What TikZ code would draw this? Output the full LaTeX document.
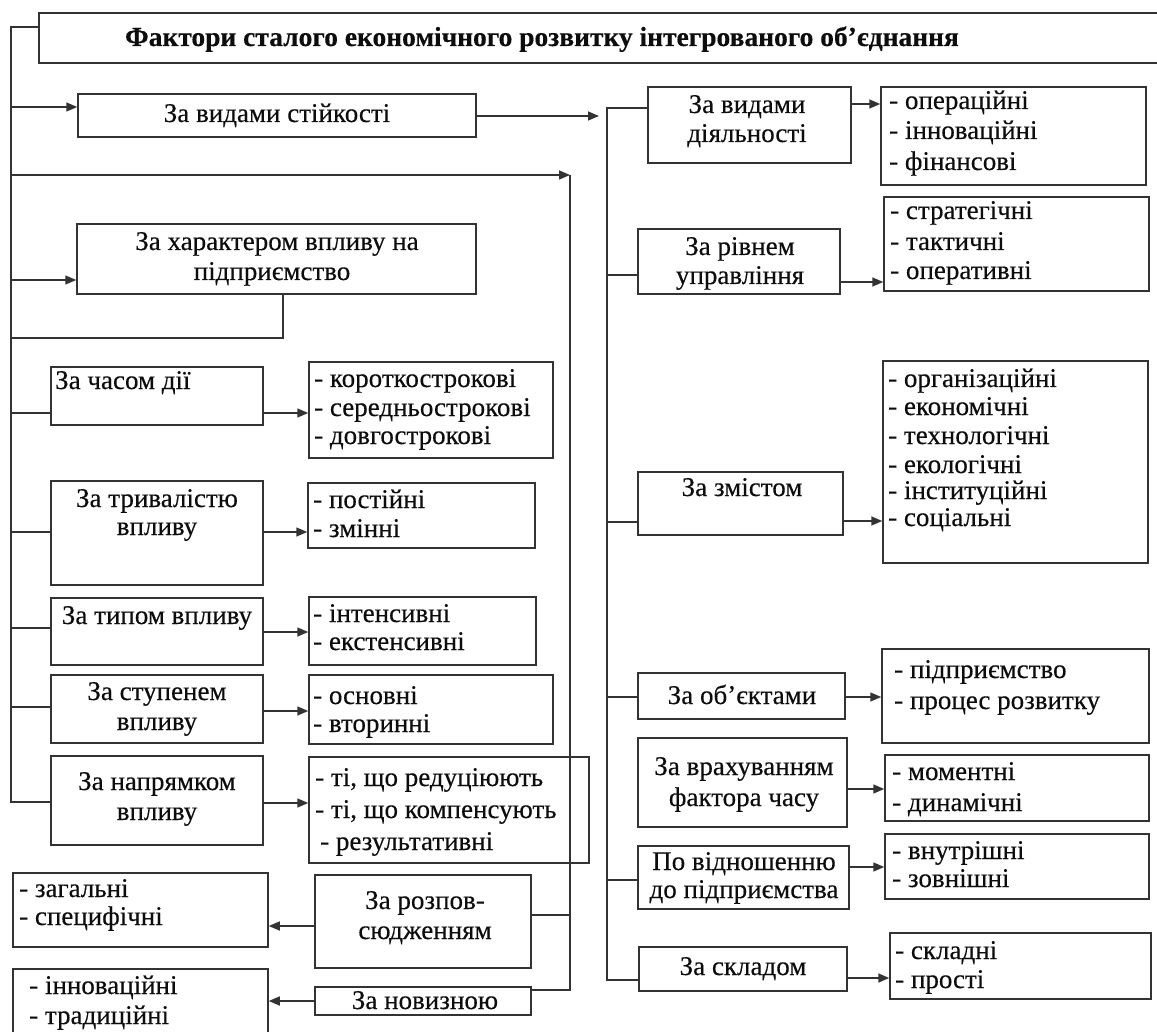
\documentclass[tikz,border=0pt]{standalone}
\usepackage{fontspec}
\setmainfont{Liberation Serif}[FakeBold=0.35]
\usetikzlibrary{arrows.meta}
\definecolor{lncol}{gray}{0.2}
\definecolor{txcol}{gray}{0.05}
\newcommand\bx[5]{\node[box, minimum width={#4-#2}, minimum height={#5-#3}] (#1) at ({(#2+#4)/2},{(#3+#5)/2}) {};}
\begin{document}
\begin{tikzpicture}[x=1pt,y=-1pt,
  box/.style={draw=lncol, line width=1.5pt, fill=white, inner sep=0pt, rectangle},
  tx/.style={inner sep=0pt, font=\fontsize{27}{31}\selectfont, text=txcol, text height=18pt, text depth=4pt},
  tl/.style={tx, anchor=west},
  wire/.style={draw=lncol, line width=1.5pt},
  arr/.style={wire, -{Triangle[length=11pt,width=9pt]}}]
\useasboundingbox[fill=white] (0,0) rectangle (1157,1032);

% ---------- boxes ----------
\bx{title}{39}{13}{1170}{63}
\bx{v1}{78}{94}{476}{137}
\bx{vh}{77}{224}{476}{294}
\bx{chas}{51}{367}{263}{425}
\bx{tryv}{51}{481}{263}{585}
\bx{typ}{51}{598}{263}{665}
\bx{stup}{51}{675}{263}{743}
\bx{napr}{51}{756}{263}{845}
\bx{lchas}{309}{362}{553}{458}
\bx{ltryv}{308}{483}{535}{548}
\bx{ltyp}{309}{597}{536}{665}
\bx{lstup}{309}{675}{553}{744}
\bx{lnapr}{309}{757}{589}{863}
\bx{lrozp}{13}{873}{268}{947}
\bx{rozp}{315}{875}{531}{968}
\bx{lnov}{13}{969}{268}{1045}
\bx{nov}{315}{987}{531}{1015}
\bx{diyal}{648}{87}{851}{163}
\bx{ldiyal}{881}{87}{1146}{185}
\bx{riv}{638}{229}{840}{294}
\bx{lriv}{884}{197}{1149}{291}
\bx{zmist}{638}{472}{843}{535}
\bx{lzmist}{883}{361}{1148}{563}
\bx{obj}{638}{673}{845}{719}
\bx{lobj}{882}{649}{1149}{743}
\bx{vrah}{638}{738}{847}{827}
\bx{lvrah}{885}{755}{1149}{821}
\bx{vidn}{638}{846}{849}{909}
\bx{lvidn}{885}{834}{1149}{899}
\bx{sklad}{639}{947}{847}{991}
\bx{lsklad}{890}{933}{1151}{999}

% ---------- texts ----------
\node[tx, font=\fontsize{27.5}{31}\selectfont\bfseries] (title-t) at (542,39) {Фактори сталого економічного розвитку інтегрованого об’єднання};
\node[tx] (v1-t) at (277,115) {За видами стійкості};
\node[tx] (vh-t1) at (277,243) {За характером впливу на};
\node[tx] (vh-t2) at (272,273) {підприємство};
\node[tl] (chas-t) at (55,382) {За часом дії};
\node[tx] (tryv-t1) at (157,500) {За тривалістю};
\node[tx] (tryv-t2) at (157,528) {впливу};
\node[tx] (typ-t) at (157,617) {За типом впливу};
\node[tx] (stup-t1) at (157,693) {За ступенем};
\node[tx] (stup-t2) at (157,723) {впливу};
\node[tx] (napr-t1) at (157,783) {За напрямком};
\node[tx] (napr-t2) at (157,813) {впливу};
\node[tl] (lchas-t1) at (314,380) {- короткострокові};
\node[tl] (lchas-t2) at (314,409) {- середньострокові};
\node[tl] (lchas-t3) at (314,437) {- довгострокові};
\node[tl] (ltryv-t1) at (313,501) {- постійні};
\node[tl] (ltryv-t2) at (313,530) {- змінні};
\node[tl] (ltyp-t1) at (313,615) {- інтенсивні};
\node[tl] (ltyp-t2) at (313,643) {- екстенсивні};
\node[tl] (lstup-t1) at (313,697) {- основні};
\node[tl] (lstup-t2) at (313,725) {- вторинні};
\node[tl] (lnapr-t1) at (315,779) {- ті, що редуціюють};
\node[tl] (lnapr-t2) at (315,811) {- ті, що компенсують};
\node[tl] (lnapr-t3) at (320,843) {- результативні};
\node[tl] (lrozp-t1) at (19,890) {- загальні};
\node[tl] (lrozp-t2) at (19,918) {- специфічні};
\node[tx] (rozp-t1) at (425,902) {За розпов-};
\node[tx] (rozp-t2) at (425,932) {сюдженням};
\node[tl] (lnov-t1) at (29,987) {- інноваційні};
\node[tl] (lnov-t2) at (29,1017) {- традиційні};
\node[tx] (nov-t) at (425,1002) {За новизною};
\node[tx] (diyal-t1) at (747,106) {За видами};
\node[tx] (diyal-t2) at (747,135) {діяльності};
\node[tl] (ldiyal-t1) at (889,102) {- операційні};
\node[tl] (ldiyal-t2) at (889,132) {- інноваційні};
\node[tl] (ldiyal-t3) at (889,163) {- фінансові};
\node[tx] (riv-t1) at (740,248) {За рівнем};
\node[tx] (riv-t2) at (740,277) {управління};
\node[tl] (lriv-t1) at (890,212) {- стратегічні};
\node[tl] (lriv-t2) at (890,243) {- тактичні};
\node[tl] (lriv-t3) at (890,272) {- оперативні};
\node[tx] (zmist-t) at (742,489) {За змістом};
\node[tl] (lzmist-t1) at (888,380) {- організаційні};
\node[tl] (lzmist-t2) at (888,408) {- економічні};
\node[tl] (lzmist-t3) at (888,437) {- технологічні};
\node[tl] (lzmist-t4) at (888,466) {- екологічні};
\node[tl] (lzmist-t5) at (888,492) {- інституційні};
\node[tl] (lzmist-t6) at (888,519) {- соціальні};
\node[tx] (obj-t) at (742,697) {За об’єктами};
\node[tl] (lobj-t1) at (894,671) {- підприємство};
\node[tl] (lobj-t2) at (894,702) {- процес розвитку};
\node[tx] (vrah-t1) at (744,768) {За врахуванням};
\node[tx] (vrah-t2) at (744,799) {фактора часу};
\node[tl] (lvrah-t1) at (892,773) {- моментні};
\node[tl] (lvrah-t2) at (892,804) {- динамічні};
\node[tx] (vidn-t1) at (744,863) {По відношенню};
\node[tx] (vidn-t2) at (744,891) {до підприємства};
\node[tl] (lvidn-t1) at (892,852) {- внутрішні};
\node[tl] (lvidn-t2) at (892,880) {- зовнішні};
\node[tx] (sklad-t) at (743,968) {За складом};
\node[tl] (lsklad-t1) at (895,952) {- складні};
\node[tl] (lsklad-t2) at (895,981) {- прості};

% ---------- bus coordinates ----------
\coordinate (L0) at (11,27);
\coordinate (Lv1) at (11,107);
\coordinate (Lr2) at (11,175);
\coordinate (Lvh) at (11,280);
\coordinate (Lvb) at (11,338);
\coordinate (Lchas) at (11,413);
\coordinate (Ltryv) at (11,532);
\coordinate (Ltyp) at (11,628);
\coordinate (Lstup) at (11,707);
\coordinate (L1) at (11,802);
\coordinate (R2a) at (570,175);
\coordinate (R2r) at (570,915);
\coordinate (R2b) at (570,990);
\coordinate (Ra) at (607,108);
\coordinate (Rriv) at (607,275);
\coordinate (Rzm) at (607,522);
\coordinate (Robj) at (607,697);
\coordinate (Rvidn) at (607,880);
\coordinate (Rb) at (607,980);
\coordinate (Vend) at (599,116);

% ---------- left bus ----------
\draw[wire] (title.west |- L0) -- (L0) -- (L1) -- (L1 -| napr.west);
\draw[arr] (Lv1) -- (Lv1 -| v1.west);
\draw[arr] (Lr2) -- (R2a);
\draw[arr] (Lvh) -- (Lvh -| vh.west);
\draw[wire] (Lvb) -- (Lvb -| 283,0) -- (vh.south -| 283,0);
\draw[wire] (Lchas) -- (Lchas -| chas.west);
\draw[wire] (Ltryv) -- (Ltryv -| tryv.west);
\draw[wire] (Ltyp) -- (Ltyp -| typ.west);
\draw[wire] (Lstup) -- (Lstup -| stup.west);

% ---------- left column arrows ----------
\draw[arr] (chas.east |- Lchas) -- (lchas.west |- Lchas);
\draw[arr] (tryv.east |- Ltryv) -- (ltryv.west |- Ltryv);
\draw[arr] (typ.east |- 0,632) -- (ltyp.west |- 0,632);
\draw[arr] (stup.east |- 0,711) -- (lstup.west |- 0,711);
\draw[arr] (napr.east |- 0,803) -- (lnapr.west |- 0,803);

% ---------- second bus ----------
\draw[arr] (v1.east |- Vend) -- (Vend);
\draw[wire] (R2b -| nov.east) -- (R2b) -- (R2a);
\draw[wire] (R2r) -- (R2r -| rozp.east);
\draw[arr] (rozp.west |- 0,926) -- (lrozp.east |- 0,926);
\draw[arr] (nov.west) -- (lnov.east |- nov.west);

% ---------- right bus ----------
\draw[wire] (diyal.west |- Ra) -- (Ra) -- (Rb) -- (Rb -| sklad.west);
\draw[wire] (Rriv) -- (Rriv -| riv.west);
\draw[wire] (Rzm) -- (Rzm -| zmist.west);
\draw[wire] (Robj) -- (Robj -| obj.west);
\draw[wire] (Rvidn) -- (Rvidn -| vidn.west);

% ---------- right column arrows ----------
\draw[arr] (diyal.east |- 0,104) -- (ldiyal.west |- 0,104);
\draw[arr] (riv.east |- 0,282) -- (lriv.west |- 0,282);
\draw[arr] (zmist.east |- 0,521) -- (lzmist.west |- 0,521);
\draw[arr] (obj.east |- 0,697) -- (lobj.west |- 0,697);
\draw[arr] (vrah.east |- 0,789) -- (lvrah.west |- 0,789);
\draw[arr] (vidn.east |- 0,867) -- (lvidn.west |- 0,867);
\draw[arr] (sklad.east |- 0,978) -- (lsklad.west |- 0,978);
\end{tikzpicture}
\end{document}
